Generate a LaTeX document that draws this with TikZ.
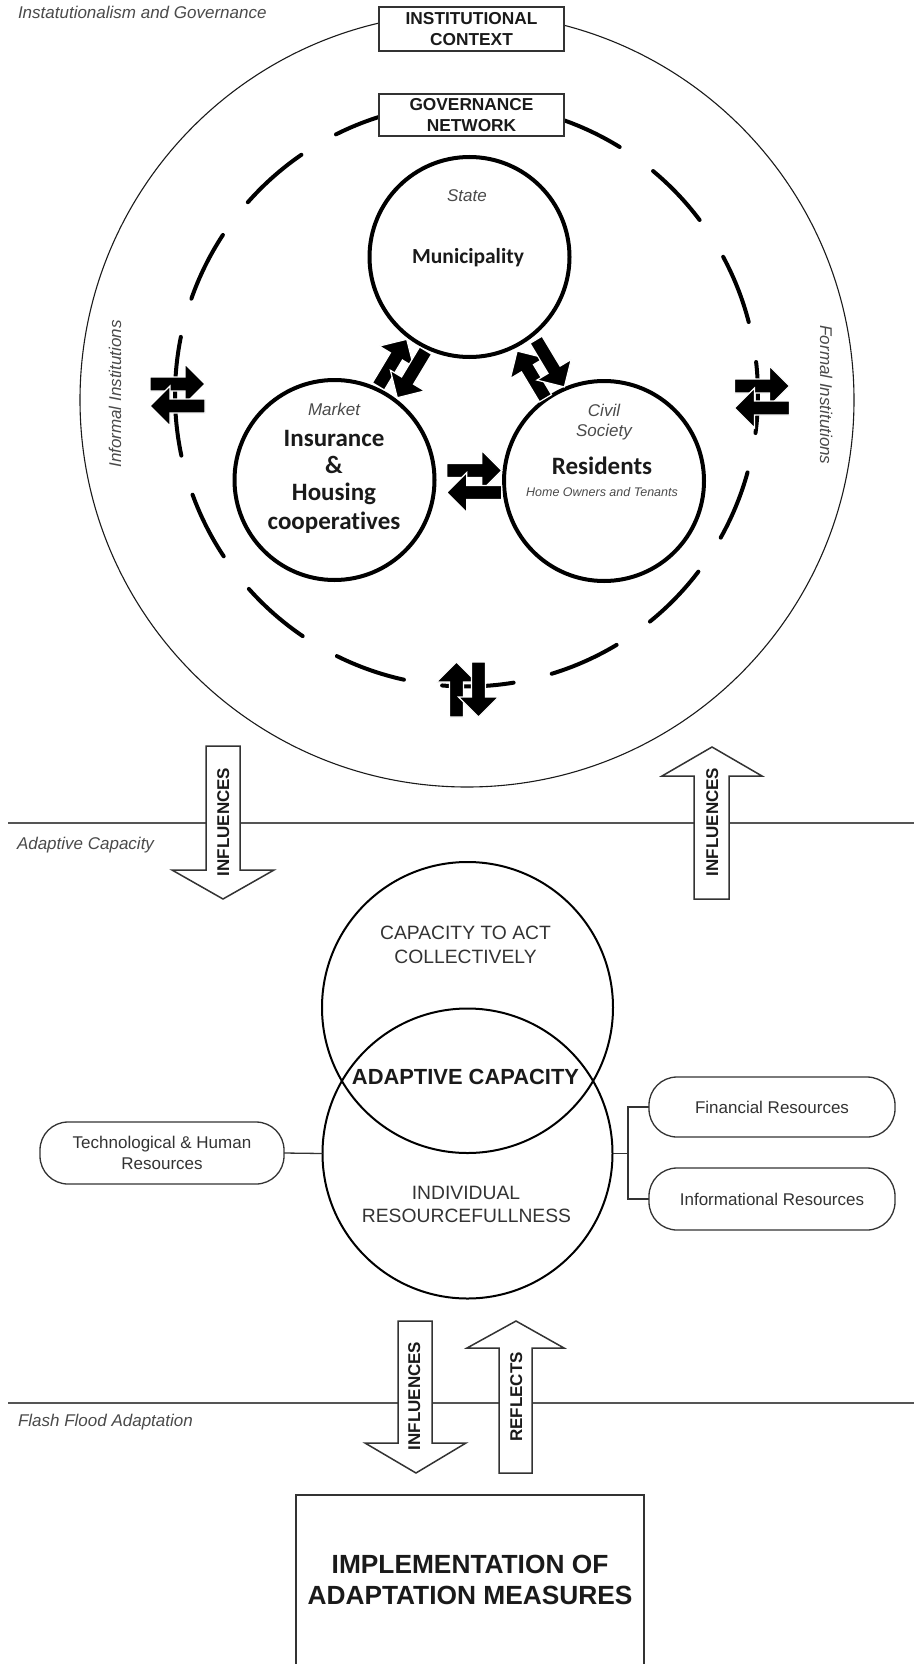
\documentclass[tikz,border=0pt]{standalone}
\usepackage{fontspec}
\setmainfont{Liberation Sans}
\newfontfamily\calibri[Ligatures=CommonOff]{Carlito}
\usetikzlibrary{calc}
\definecolor{labelgray}{HTML}{4A4A4A}
\definecolor{ink}{HTML}{1A1A1A}
\definecolor{linegray}{HTML}{555555}
\definecolor{textgray}{HTML}{333333}
\newcommand\fsz[2]{\fontsize{#1}{#2}\selectfont}

\begin{document}
\begin{tikzpicture}[x=1pt,y=-1pt,
  every node/.style={inner sep=0pt, outer sep=0pt},
  lbl/.style={font=\fsz{17}{20}\itshape, text=labelgray, text height=12pt, text depth=0pt},
  small/.style={font=\fsz{12.5}{15}\itshape, text=labelgray, text height=9pt, text depth=0pt},
  ctxbox/.style={draw=textgray, line width=1.5pt, fill=white, minimum width=185pt,
    minimum height=44pt, align=center, font=\fsz{17.3}{20.5}\bfseries, text=ink},
  actor/.style={circle, draw=black, line width=4pt, minimum size=200pt},
  actorname/.style={font=\calibri\fsz{25}{27}\bfseries, text=ink, text height=15.5pt, text depth=0pt},
  netdash/.style={line width=4pt, line cap=round, black},
  venn/.style={circle, draw=black, line width=2pt},
  venntext/.style={font=\fsz{19.3}{23}, text=textgray, text height=13.5pt, text depth=0pt},
  resbox/.style={draw=textgray, line width=1.3pt, rounded corners=28pt, align=center,
    font=\fsz{17}{21}, text=textgray},
  hline/.style={linegray, line width=1.5pt},
  barrow/.style={draw=textgray, line width=1.5pt, fill=white, line join=miter},
  barrowtext/.style={font=\fsz{17}{20}\bfseries, text=ink, rotate=90, text height=12pt, text depth=0pt},
  xchg/.pic={
    \filldraw[fill=black, draw=white, line width=1.2pt]
      (-11,-27.5) -- (9,-7.5) -- (-4,-7.5) -- (-4,27.5) -- (-18,27.5) -- (-18,-7.5) -- (-31,-7.5) -- cycle;
    \filldraw[fill=black, draw=white, line width=1.2pt]
      (11,27.5) -- (-9,7.5) -- (4,7.5) -- (4,-27.5) -- (18,-27.5) -- (18,7.5) -- (31,7.5) -- cycle;
  }
]
\useasboundingbox (0,0) rectangle (914,1664);

% ---------- Institutionalism and governance ----------
\node[lbl, anchor=west] (lblinst) at (18,13) {Instatutionalism and Governance};

\node[circle, draw=ink, line width=1.1pt, minimum size=774pt] (ctx) at (467,400) {};

% governance network: dashed ring drawn as separate arcs
\coordinate (gnet) at (466.5,395);
\foreach \s/\e in {58.3/116.6, 124.5/138.6, 146.7/160.7, 168.5/192, 200/213.6,
                   221.7/235.8, 243.6/257.6, 265.2/279.3, 287/301, 309/322.7,
                   330.7/344.6, 352.5/366.5, 14.5/28.3, 36.9/50.2}
  \draw[netdash] ($(gnet)+(-\s:291.5)$) arc[start angle=-\s, end angle=-\e, radius=291.5];

\node[ctxbox] (ctxlabel) at (471.5,29) {INSTITUTIONAL\\CONTEXT};
\node[ctxbox, minimum height=42pt] (netlabel) at (471.5,115) {GOVERNANCE\\NETWORK};

\node[lbl, rotate=90] (informal) at (115,394) {Informal Institutions};
\node[lbl, rotate=-90] (formal) at (826,395) {Formal Institutions};

% actors
\node[actor] (muni) at (469.5,257) {};
\node[actor] (market) at (334.5,480) {};
\node[actor] (res) at (604,481) {};

\node[lbl] at (467,195) {State};
\node[actorname, font=\calibri\fsz{21.5}{25}\bfseries, text height=13.5pt] at (468,257) {Municipality};

\node[lbl] at (334,409) {Market};
\node[actorname] at (334,439) {Insurance};
\node[actorname] at (334,466) {\&};
\node[actorname] at (334,493) {Housing};
\node[actorname] at (334,522) {cooperatives};

\node[lbl] at (604,410) {Civil};
\node[lbl] at (604,430) {Society};
\node[actorname] at (602,467) {Residents};
\node[small] at (602,492) {Home Owners and Tenants};

% exchange symbols
\pic[rotate=-31] at ($(muni)!0.5!(market)$) {xchg};
\pic[rotate=31] at ([xshift=4pt]$(muni)!0.5!(res)$) {xchg};
\pic[rotate=-90] at ([xshift=5pt,yshift=-1pt]$(market)!0.5!(res)$) {xchg};
\pic[rotate=-90] at (177.5,395) {xchg};
\pic[rotate=-90] at (762,397) {xchg};
\pic at (467.5,689.5) {xchg};

% ---------- layer separators ----------
\coordinate (sepAa) at (8,823);
\coordinate (sepAb) at (914,823);
\coordinate (sepBa) at (8,1403);
\coordinate (sepBb) at (914,1403);
\draw[hline] (sepAa) -- (sepAb);
\draw[hline] (sepBa) -- (sepBb);
\node[lbl, anchor=west] (lbladapt) at (17,843) {Adaptive Capacity};
\node[lbl, anchor=west] (lblflood) at (18,1420) {Flash Flood Adaptation};

% block arrows between the layers
\draw[barrow] (206,746) -- (240,746) -- (240,870) -- (274,870) -- (223,899) -- (172,870) -- (206,870) -- cycle;
\node[barrowtext] at (223,822) {INFLUENCES};
\draw[barrow] (694,899) -- (729,899) -- (729,776) -- (762,776) -- (712,747) -- (662,776) -- (694,776) -- cycle;
\node[barrowtext] at (712,822) {INFLUENCES};

% ---------- adaptive capacity ----------
\node[venn, minimum size=291pt] (coll) at (467.5,1007.5) {};
\node[venn, minimum size=290pt] (indiv) at (467.5,1153.5) {};

\node[venntext] at (465.5,933) {CAPACITY TO ACT};
\node[venntext] at (465.5,957) {COLLECTIVELY};
\node[font=\fsz{21.9}{24}\bfseries, text=ink, text height=15.5pt, text depth=0pt] at (465.5,1077) {ADAPTIVE CAPACITY};
\node[venntext] at (466,1193) {INDIVIDUAL};
\node[venntext] at (466.5,1216) {RESOURCEFULLNESS};

\node[resbox, minimum width=244pt, minimum height=62pt] (tech) at (162,1153) {Technological \& Human\\Resources};
\node[resbox, minimum width=246pt, minimum height=60pt] (fin) at (772,1107) {Financial Resources};
\node[resbox, minimum width=246pt, minimum height=62pt] (info) at (772,1199) {Informational Resources};

\coordinate (brk) at (628,1153.5);
\draw[textgray, line width=1.3pt] (tech.east) -- (indiv.west);
\draw[textgray, line width=1.3pt] (indiv.east) -- (brk);
\draw[textgray, line width=1.3pt] (fin.west) -| (brk) |- (info.west);

% arrows to the adaptation layer
\draw[barrow] (398,1321) -- (432,1321) -- (432,1443) -- (466,1443) -- (416,1473) -- (365,1443) -- (398,1443) -- cycle;
\node[barrowtext] at (414,1396) {INFLUENCES};
\draw[barrow] (499,1473) -- (532,1473) -- (532,1348) -- (564,1348) -- (516,1321) -- (467,1348) -- (499,1348) -- cycle;
\node[barrowtext] at (516,1397) {REFLECTS};

% ---------- flash flood adaptation ----------
\node[minimum width=348pt, minimum height=169pt, anchor=north, align=center,
      font=\fsz{26.3}{31}\bfseries, text=ink] (impl) at (470,1495)
      {IMPLEMENTATION OF\\ADAPTATION MEASURES};
\draw[textgray, line width=1.5pt] (impl.south west) -- (impl.north west) -- (impl.north east) -- (impl.south east);

\end{tikzpicture}
\end{document}
